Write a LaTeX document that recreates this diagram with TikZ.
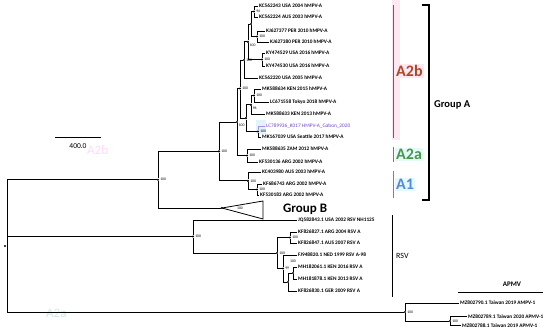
\documentclass[tikz,border=0pt]{standalone}
\usepackage{fontspec}
\setmainfont{Carlito}
\usepackage{tikz}
\usetikzlibrary{positioning, calc}
\definecolor{atwobred}{RGB}{172,72,38}
\definecolor{atwoagreen}{RGB}{75,150,75}
\definecolor{aoneblue}{RGB}{85,135,225}
\definecolor{cladepink}{RGB}{253,232,242}
\definecolor{cladecyan}{RGB}{228,250,250}
\definecolor{gabonpurple}{RGB}{110,70,200}
\definecolor{gaboncyan}{RGB}{225,243,252}
\tikzset{
  branch/.style={line width=0.8pt, black},
  nodedot/.style={circle, fill=black, inner sep=0pt, minimum size=2.4pt},
  leaflabel/.style={anchor=west, inner sep=1pt, font=\fontsize{5.3}{6}\selectfont\bfseries},
  supportlabel/.style={font=\fontsize{3.8}{4}\selectfont, inner sep=0.4pt, label distance=0.3pt},
  cladebar/.style={line width=1pt},
  cladetext/.style={anchor=west, inner sep=1pt, font=\fontsize{16}{18}\selectfont\bfseries},
  grouptext/.style={anchor=west, inner sep=0pt, font=\fontsize{10.5}{12}\selectfont\bfseries},
}
\begin{document}
\begin{tikzpicture}[x=1pt, y=-1pt]
  \useasboundingbox (0,0) rectangle (550,330);
  % highlights
  \fill[cladepink] (392,0) rectangle (400,140);
  \fill[gaboncyan] (256,120) rectangle (266,134);
  % faint ghost labels
  \node[cladetext, font=\fontsize{13}{14}\selectfont, text=cladepink!70!magenta!40] (ghostb) at (86,150) {A2b};
  \node[cladetext, font=\fontsize{13}{14}\selectfont, text=cladecyan!60!teal!40] (ghosta) at (45,313) {A2a};

  % internal nodes
  \coordinate (root) at (7,246);
  \node[nodedot] (rootdot) at (5,246) {};
  \node[nodedot, label={[supportlabel]east:100}] (gab) at (158,179.7) {};
  \node[nodedot, label={[supportlabel]east:100}] (ga) at (219,151.4) {};
  \node[nodedot, label={[supportlabel]below right:100}] (atwo) at (237,122) {};
  \node[nodedot, label={[supportlabel]east:100}] (atwob) at (240,88.5) {};
  \node[nodedot, label={[supportlabel]east:100}] (up) at (244,60) {};
  \node[nodedot, label={[supportlabel]below right:100}] (upone) at (248,41.8) {};
  \node[nodedot] (uptwo) at (251,24) {};
  \node[nodedot, label={[supportlabel]east:94}] (nn) at (254,11.5) {};
  \node[nodedot, label={[supportlabel]east:100}] (kjpair) at (257,36.5) {};
  \node[nodedot, label={[supportlabel]east:100}] (kypair) at (262,59.5) {};
  \node[nodedot] (low) at (246,118.1) {};
  \node[nodedot, label={[supportlabel]below right:96}] (nsix) at (251,104.8) {};
  \node[nodedot, label={[supportlabel]east:100}] (mkpair) at (254,95.5) {};
  \node[nodedot, label={[supportlabel]east:100}] (lcpair) at (258,131.5) {};
  \node[nodedot, label={[supportlabel]east:100}] (atwoa) at (247,155.5) {};
  \node[nodedot, label={[supportlabel]east:100}] (aone) at (248,180.8) {};
  \node[nodedot, label={[supportlabel]east:100}] (aonein) at (257,189.5) {};
  \node[nodedot] (gb) at (222,208) {};
  \node[supportlabel] (gbsup) at (240,208) {100};

  % hMPV-A leaves
  \node[leaflabel] (kcft) at (258,6) {KC562243 USA 2004 hMPV-A};
  \node[leaflabel] (kctf) at (258,17) {KC562224 AUS 2003 hMPV-A};
  \node[leaflabel] (kjss) at (265,31) {KJ627377 PER 2010 hMPV-A};
  \node[leaflabel] (kjeo) at (269,42) {KJ627380 PER 2010 hMPV-A};
  \node[leaflabel] (kytn) at (265,53) {KY474529 USA 2016 hMPV-A};
  \node[leaflabel] (kyth) at (265,66) {KY474530 USA 2016 hMPV-A};
  \node[leaflabel] (kctw) at (258,78) {KC562220 USA 2005 hMPV-A};
  \node[leaflabel] (mktf) at (261,89) {MK588634 KEN 2015 hMPV-A};
  \node[leaflabel] (lcfe) at (269,102) {LC671558 Tokyo 2018 hMPV-A};
  \node[leaflabel] (mktt) at (265,114) {MK588633 KEN 2013 hMPV-A};
  \node[leaflabel, font=\fontsize{5.3}{6}\selectfont, text=gabonpurple] (lcts) at (265,126) {LC789936\_K017 HMPV-A\_Gabon\_2020};
  \node[leaflabel] (mktn) at (261,137) {MK167039 USA Seattle 2017 hMPV-A};
  \node[leaflabel] (mktv) at (261,149) {MK588635 ZAM 2012 hMPV-A};
  \node[leaflabel] (kfts) at (258,162) {KF530136 ARG 2002 hMPV-A};
  \node[leaflabel] (kcez) at (261,172) {KC403980 AUS 2003 hMPV-A};
  \node[leaflabel] (kffh) at (262,184) {KF686743 ARG 2002 hMPV-A};
  \node[leaflabel] (kfoe) at (259,195) {KF530183 ARG 2002 hMPV-A};

  % hMPV-A branches
  \draw[branch] (root) |- (gab);
  \draw[branch] (gab) |- (ga);
  \draw[branch] (gab) |- (gb);
  \draw[branch] (ga) |- (atwo);
  \draw[branch] (ga) |- (aone);
  \draw[branch] (atwo) |- (atwob);
  \draw[branch] (atwo) |- (atwoa);
  \draw[branch] (atwob) |- (up);
  \draw[branch] (atwob) |- (low);
  \draw[branch] (up) |- (upone);
  \draw[branch] (up) |- (kctw.west);
  \draw[branch] (upone) |- (uptwo);
  \draw[branch] (upone) |- (kypair);
  \draw[branch] (uptwo) |- (nn);
  \draw[branch] (uptwo) |- (kjpair);
  \draw[branch] (nn) |- (kcft.west);
  \draw[branch] (nn) |- (kctf.west);
  \draw[branch] (kjpair) |- (kjss.west);
  \draw[branch] (kjpair) |- (kjeo.west);
  \draw[branch] (kypair) |- (kytn.west);
  \draw[branch] (kypair) |- (kyth.west);
  \draw[branch] (low) |- (nsix);
  \draw[branch] (low) |- (lcpair);
  \draw[branch] (nsix) |- (mkpair);
  \draw[branch] (nsix) |- (mktt.west);
  \draw[branch] (mkpair) |- (mktf.west);
  \draw[branch] (mkpair) |- (lcfe.west);
  \draw[branch, gabonpurple!60] (lcpair) |- (lcts.west);
  \draw[branch] (lcpair) |- (mktn.west);
  \draw[branch] (atwoa) |- (mktv.west);
  \draw[branch] (atwoa) |- (kfts.west);
  \draw[branch] (aone) |- (kcez.west);
  \draw[branch] (aone) |- (aonein);
  \draw[branch] (aonein) |- (kffh.west);
  \draw[branch] (aonein) |- (kfoe.west);
  % collapsed group B
  \draw[branch] (gb.center) -- (263,201) -- (263,219) -- cycle;
  \node[grouptext, font=\fontsize{13}{15}\selectfont\bfseries] (groupb) at (283,209) {Group B};

  % RSV
  \node[nodedot, label={[supportlabel]east:100}] (rsv) at (193,236.5) {};
  \node[nodedot, label={[supportlabel]east:100}] (rone) at (277,253) {};
  \node[nodedot, label={[supportlabel]east:100}] (rtwo) at (290,237.5) {};
  \node[nodedot, label={[supportlabel]east:99}] (nnine) at (283,268.5) {};
  \node[nodedot] (rthree) at (288,282) {};
  \node[nodedot] (mhpair) at (293,273) {};
  \node[supportlabel] (mhsup) at (293,261.5) {100};
  \node[leaflabel] (jqft) at (297,220) {JQ582843.1 USA 2002 RSV NH1125};
  \node[leaflabel] (kfst) at (297,232) {KF826827.1 ARG 2004 RSV A};
  \node[leaflabel] (kffs) at (297,243) {KF826847.1 AUS 2007 RSV A};
  \node[leaflabel] (fjne) at (297,255) {FJ948820.1 NED 1999 RSV A-98};
  \node[leaflabel] (mhts) at (297,267) {MH182061.1 KEN 2016 RSV A};
  \node[leaflabel] (mhse) at (297,279) {MH181878.1 KEN 2013 RSV A};
  \node[leaflabel] (kfge) at (297,291) {KF826830.1 GER 2009 RSV A};
  \draw[branch] (root) |- (rsv);
  \draw[branch] (rsv) |- (jqft.west);
  \draw[branch] (rsv) |- (rone);
  \draw[branch] (rone) |- (rtwo);
  \draw[branch] (rone) |- (nnine);
  \draw[branch] (rtwo) |- (kfst.west);
  \draw[branch] (rtwo) |- (kffs.west);
  \draw[branch] (nnine) |- (fjne.west);
  \draw[branch] (nnine) |- (rthree);
  \draw[branch] (rthree) |- (mhpair);
  \draw[branch] (rthree) |- (kfge.west);
  \draw[branch] (mhpair) |- (mhts.west);
  \draw[branch] (mhpair) |- (mhse.west);

  % APMV
  \node[nodedot, label={[supportlabel]east:100}] (apmv) at (405,312) {};
  \node[nodedot, label={[supportlabel]east:100}] (apmvin) at (450,321) {};
  \node[leaflabel] (mzzn) at (459,303) {MZ802790.1 Taiwan 2019 AMPV-1};
  \node[leaflabel] (mzen) at (467,316.5) {MZ802789.1 Taiwan 2020 APMV-1};
  \node[leaflabel] (mzee) at (461,325.5) {MZ802788.1 Taiwan 2019 APMV-1};
  \draw[branch] (root) |- (apmv);
  \draw[branch] (apmv) |- (mzzn.west);
  \draw[branch] (apmv) |- (apmvin);
  \draw[branch] (apmvin) |- (mzen.west);
  \draw[branch] (apmvin) |- (mzee.west);

  % clade bars and labels
  \draw[cladebar, atwobred] (393,5) -- (393,138);
  \draw[cladebar, atwoagreen] (393,147) -- (393,162);
  \draw[cladebar, aoneblue] (393,171) -- (393,198);
  \node[cladetext, text=atwobred, fill=cladepink] (atwobtext) at (395,71) {A2b};
  \node[cladetext, text=atwoagreen, fill=cladecyan] (atwoatext) at (395,154.5) {A2a};
  \node[cladetext, text=aoneblue, fill=cladecyan] (aonetext) at (395,184.5) {A1};
  \draw[line width=2pt] (422,5) -- (429,5) -- (429,200) -- (422,200);
  \node[grouptext] (groupa) at (434,105) {Group A};
  \draw[line width=1pt] (392,215) -- (392,297);
  \node[anchor=west, inner sep=0pt, font=\fontsize{8}{9}\selectfont] (rsvtext) at (396,256) {RSV};
  \draw[line width=1pt] (458,292) -- (543,292);
  \node[font=\fontsize{7}{8}\selectfont\bfseries, inner sep=0pt] (apmvtext) at (512,284) {APMV};

  % scale bar
  \draw[line width=0.8pt] (55,137) -- (101,137);
  \node[font=\fontsize{7.5}{8}\selectfont, inner sep=0pt] (scaletext) at (78,146) {400.0};
\end{tikzpicture}
\end{document}
